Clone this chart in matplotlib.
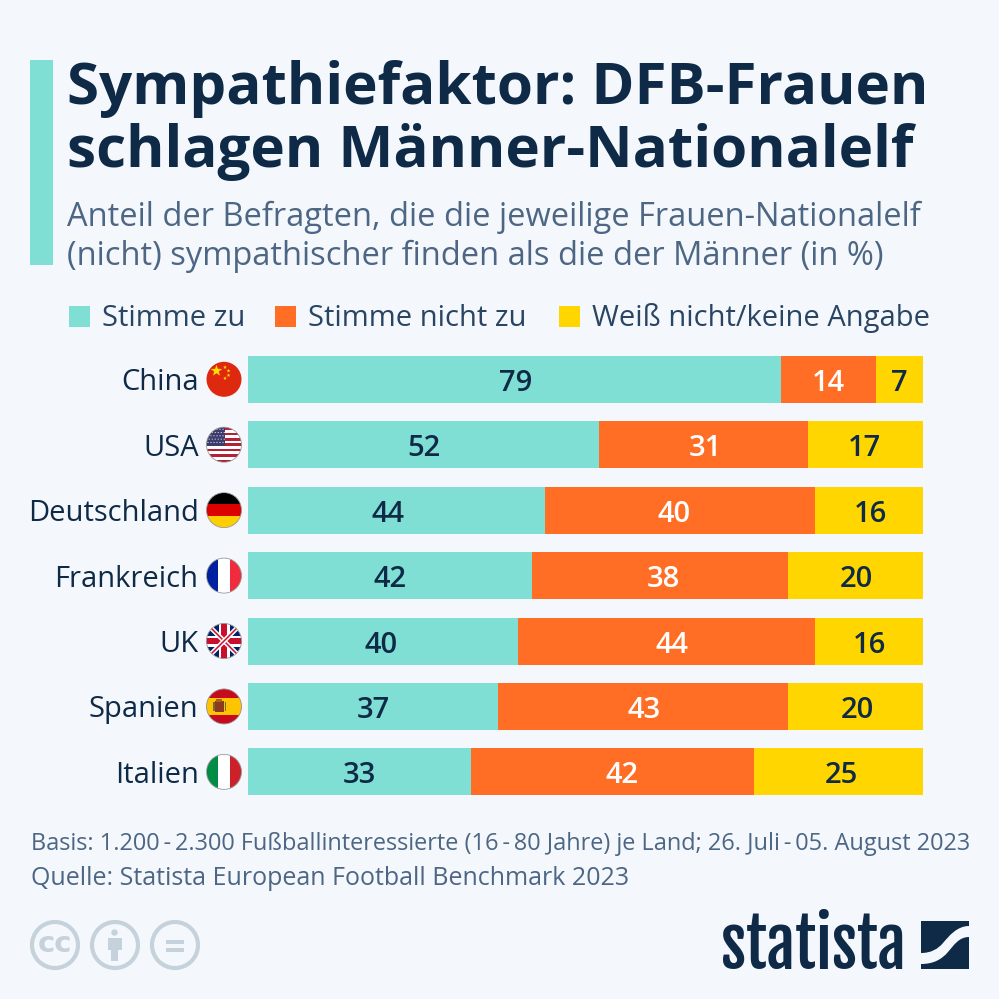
import matplotlib
matplotlib.use("Agg")
import numpy as np
import matplotlib.pyplot as plt
from matplotlib.patches import Circle, Rectangle, PathPatch, Polygon
from matplotlib.path import Path

countries = ["China", "USA", "Deutschland", "Frankreich", "UK", "Spanien", "Italien"]
stimme_zu = [79, 52, 44, 42, 40, 37, 33]
stimme_nicht_zu = [14, 31, 40, 38, 44, 43, 42]
weiss_nicht = [7, 17, 16, 20, 16, 20, 25]
series_names = ["Stimme zu", "Stimme nicht zu", "Weiß nicht/keine Angabe"]

# the value labels are not quite centred in the original (pixels)
nudge_zu = [1, 0, -8.5, 0, -2, 0, 0]
nudge_nicht_zu = [0, 2, -6, 4, 5.5, 1, 9.5]
nudge_weiss = [0, -1.5, 1, 0.5, 0, 1.5, 3]

BG = "#F4F8FC"
NAVY = "#0F2A47"
TEAL = "#80DFD4"
ORANGE = "#FF6E24"
YELLOW = "#FFD600"
GREY_BLUE = "#4C6684"
ICON = "#C6D2DB"

plt.rcParams["font.family"] = ["Open Sans", "DejaVu Sans"]


def clipped(ax, patch, clip):
    ax.add_patch(patch)
    patch.set_clip_path(clip)
    return patch


def flag_base(ax, cx, cy, r=17.5):
    return Circle((cx, cy), r, transform=ax.transData)


def band(ax, clip, x0, y0, w, h, color):
    clipped(ax, Rectangle((x0, y0), w, h, fc=color, ec="none"), clip)


def outline(ax, cx, cy, r=17.5):
    ax.add_patch(Circle((cx, cy), r, fc="none", ec="#9A9A9A", lw=0.6))


def star(ax, clip, x, y, r, color="#FFDE00"):
    pts = []
    for i in range(10):
        a = np.pi / 2 + i * np.pi / 5
        rr = r if i % 2 == 0 else r * 0.4
        pts.append((x + rr * np.cos(a), y - rr * np.sin(a)))
    clipped(ax, Polygon(pts, fc=color, ec="none"), clip)


def flag_china(ax, cx, cy):
    clip = flag_base(ax, cx, cy)
    band(ax, clip, cx - 18, cy - 18, 36, 36, "#DE2910")
    star(ax, clip, cx - 7.5, cy - 8.5, 6)
    for dx, dy in [(1, -12), (4.5, -8.5), (4.5, -4), (1, -1)]:
        star(ax, clip, cx + dx, cy + dy, 2)


def flag_usa(ax, cx, cy):
    clip = flag_base(ax, cx, cy)
    h = 35 / 13
    for i in range(13):
        band(ax, clip, cx - 18, cy - 17.5 + i * h, 36, h + 0.1, "#B22234" if i % 2 == 0 else "#FFFFFF")
    band(ax, clip, cx - 18, cy - 17.5, 19, 7 * h, "#3C3B6E")
    for i in range(5):
        for j in range(6):
            clipped(ax, Circle((cx - 16 + j * 3 + (i % 2) * 1.2, cy - 15.5 + i * 3.3), 0.55, fc="white", ec="none"), clip)
    outline(ax, cx, cy)


def flag_germany(ax, cx, cy):
    clip = flag_base(ax, cx, cy)
    for i, c in enumerate(["#000000", "#DD0000", "#FFCE00"]):
        band(ax, clip, cx - 18, cy - 17.5 + i * 35 / 3, 36, 35 / 3 + 0.1, c)
    outline(ax, cx, cy)


def flag_france(ax, cx, cy):
    clip = flag_base(ax, cx, cy)
    for i, c in enumerate(["#00209F", "#FFFFFF", "#EF2B3D"]):
        band(ax, clip, cx - 17.5 + i * 35 / 3, cy - 18, 35 / 3 + 0.1, 36, c)
    outline(ax, cx, cy)


def flag_italy(ax, cx, cy):
    clip = flag_base(ax, cx, cy)
    for i, c in enumerate(["#008C45", "#FFFFFF", "#CD212A"]):
        band(ax, clip, cx - 17.5 + i * 35 / 3, cy - 18, 35 / 3 + 0.1, 36, c)
    outline(ax, cx, cy)


def flag_uk(ax, cx, cy):
    clip = flag_base(ax, cx, cy)
    band(ax, clip, cx - 18, cy - 18, 36, 36, "#012169")
    for sign in (1, -1):
        line, = ax.plot([cx - 18, cx + 18], [cy - 18 * sign, cy + 18 * sign], color="white", lw=3.4, solid_capstyle="butt")
        line.set_clip_path(clip)
        line, = ax.plot([cx - 18, cx + 18], [cy - 18 * sign, cy + 18 * sign], color="#C8102E", lw=1.1, solid_capstyle="butt")
        line.set_clip_path(clip)
    band(ax, clip, cx - 18, cy - 5.5, 36, 11, "white")
    band(ax, clip, cx - 5.5, cy - 18, 11, 36, "white")
    band(ax, clip, cx - 18, cy - 3.3, 36, 6.6, "#C8102E")
    band(ax, clip, cx - 3.3, cy - 18, 6.6, 36, "#C8102E")
    outline(ax, cx, cy)


def flag_spain(ax, cx, cy):
    clip = flag_base(ax, cx, cy)
    band(ax, clip, cx - 18, cy - 18, 36, 36, "#C60B1E")
    band(ax, clip, cx - 18, cy - 8.8, 36, 17.6, "#FFC400")
    band(ax, clip, cx - 9.5, cy - 5.5, 9, 11, "#8E3A1E")
    band(ax, clip, cx - 8, cy - 7.5, 6, 3, "#A8651F")
    band(ax, clip, cx - 11, cy - 4, 1.6, 9, "#7A6A3A")
    band(ax, clip, cx + 0.5, cy - 4, 1.6, 9, "#7A6A3A")
    outline(ax, cx, cy)


def logo_mark(ax):
    x0, y0, s = 921, 921, 48
    upper = [(x0, y0), (x0 + s, y0), (x0 + s, y0 + 5),
             (x0 + 36, y0 + 5), (x0 + 28, y0 + 15), (x0 + 22, y0 + 22),
             (x0 + 17, y0 + 28), (x0 + 10, y0 + 32), (x0, y0 + 32),
             (x0, y0)]
    upper_codes = [Path.MOVETO, Path.LINETO, Path.LINETO,
                   Path.CURVE4, Path.CURVE4, Path.CURVE4,
                   Path.CURVE4, Path.CURVE4, Path.CURVE4,
                   Path.CLOSEPOLY]
    lower = [(x0 + s, y0 + 16), (x0 + 38, y0 + 16), (x0 + 33, y0 + 24), (x0 + 27, y0 + 31),
             (x0 + 21, y0 + 38), (x0 + 13, y0 + 43), (x0, y0 + 43),
             (x0, y0 + s), (x0 + s, y0 + s), (x0 + s, y0 + 16)]
    lower_codes = [Path.MOVETO, Path.CURVE4, Path.CURVE4, Path.CURVE4,
                   Path.CURVE4, Path.CURVE4, Path.CURVE4,
                   Path.LINETO, Path.LINETO, Path.CLOSEPOLY]
    ax.add_patch(PathPatch(Path(upper, upper_codes), fc=NAVY, ec="none"))
    ax.add_patch(PathPatch(Path(lower, lower_codes), fc=NAVY, ec="none"))


def cc_icons(ax):
    for cx in (55, 115, 175):
        ax.add_patch(Circle((cx, 945), 23, fc="none", ec=ICON, lw=3))
    ax.text(55, 944.5, "cc", color=ICON, fontsize=21, fontweight="bold", ha="center", va="center", family="DejaVu Sans")
    ax.add_patch(Circle((114.5, 932.5), 3.2, fc=ICON, ec="none"))
    ax.add_patch(Rectangle((107.5, 938), 14, 12, fc=ICON, ec="none"))
    ax.add_patch(Rectangle((111, 950), 7, 11, fc=ICON, ec="none"))
    ax.add_patch(Rectangle((166, 939.5), 18, 4, fc=ICON, ec="none"))
    ax.add_patch(Rectangle((166, 947.5), 18, 4, fc=ICON, ec="none"))


fig = plt.figure(figsize=(9.99, 9.99), dpi=100, facecolor=BG)

# bars, placed so that 0-100 runs over pixels 248-923
ax = fig.add_axes([248 / 999, 1 - 804.6 / 999, 675 / 999, 458 / 999])
ax.set_facecolor("none")
left = [0] * len(countries)
series = [stimme_zu, stimme_nicht_zu, weiss_nicht]
nudges = [nudge_zu, nudge_nicht_zu, nudge_weiss]
colors = [TEAL, ORANGE, YELLOW]
label_colors = [NAVY, "white", NAVY]
for vals, name, c, lc, nudge in zip(series, series_names, colors, label_colors, nudges):
    bars = ax.barh(countries, vals, left=left, height=47 / 65.43, color=c, label=name)
    labels = ax.bar_label(bars, label_type="center", color=lc, fontsize=21, fontweight="semibold")
    for lbl, dx in zip(labels, nudge):
        lbl.set_va("center_baseline")
        lbl.xyann = (dx * 0.72, -0.4)
    left = [a + b for a, b in zip(left, vals)]
ax.set_xlim(0, 100)
ax.set_ylim(6.5, -0.5)
ax.xaxis.set_visible(False)
for s in ax.spines.values():
    s.set_visible(False)
ax.tick_params(axis="y", length=0, pad=35.6, labelsize=21, labelcolor=NAVY)

# overlay in pixel coordinates for header, flags, footer
ov = fig.add_axes([0, 0, 1, 1])
ov.set_xlim(0, 999)
ov.set_ylim(999, 0)
ov.axis("off")
ov.patch.set_alpha(0)

ov.add_patch(Rectangle((30, 60), 23, 205, fc=TEAL, ec="none"))
ov.text(67, 104, "Sympathiefaktor: DFB-Frauen", color=NAVY, fontsize=42, fontweight="bold", va="baseline")
ov.text(67, 167, "schlagen Männer-Nationalelf", color=NAVY, fontsize=42, fontweight="bold", va="baseline")
ov.text(67, 226, "Anteil der Befragten, die die jeweilige Frauen-Nationalelf", color=GREY_BLUE, fontsize=23.5, va="baseline")
ov.text(67, 265, "(nicht) sympathischer finden als die der Männer (in %)", color=GREY_BLUE, fontsize=23.5, va="baseline")

for x, name, c in zip((69, 275, 559), series_names, colors):
    ov.add_patch(Rectangle((x, 306), 21, 21, fc=c, ec="none"))
    ov.text(x + 33, 326, name, color="#2A4563", fontsize=21, va="baseline")

flag_funcs = [flag_china, flag_usa, flag_germany, flag_france, flag_uk, flag_spain, flag_italy]
for i, func in enumerate(flag_funcs):
    func(ov, 224, 379.3 + i * 65.43)

ov.text(31, 850, "Basis: 1.200\u2009-\u20092.300 Fußballinteressierte (16\u2009-\u200980 Jahre) je Land; 26. Juli\u2009-\u200905. August 2023",
        color=GREY_BLUE, fontsize=16.95, va="baseline")
ov.text(31, 885, "Quelle: Statista European Football Benchmark 2023", color=GREY_BLUE, fontsize=18, va="baseline")

cc_icons(ov)
ov.text(721, 969, "statista", color=NAVY, fontsize=46, fontweight="bold", va="baseline", ha="left",
        family=["Fjalla One", "Barlow Condensed", "Roboto"])
logo_mark(ov)

fig.savefig("out.png", dpi=100, facecolor=BG)
plt.close(fig)
